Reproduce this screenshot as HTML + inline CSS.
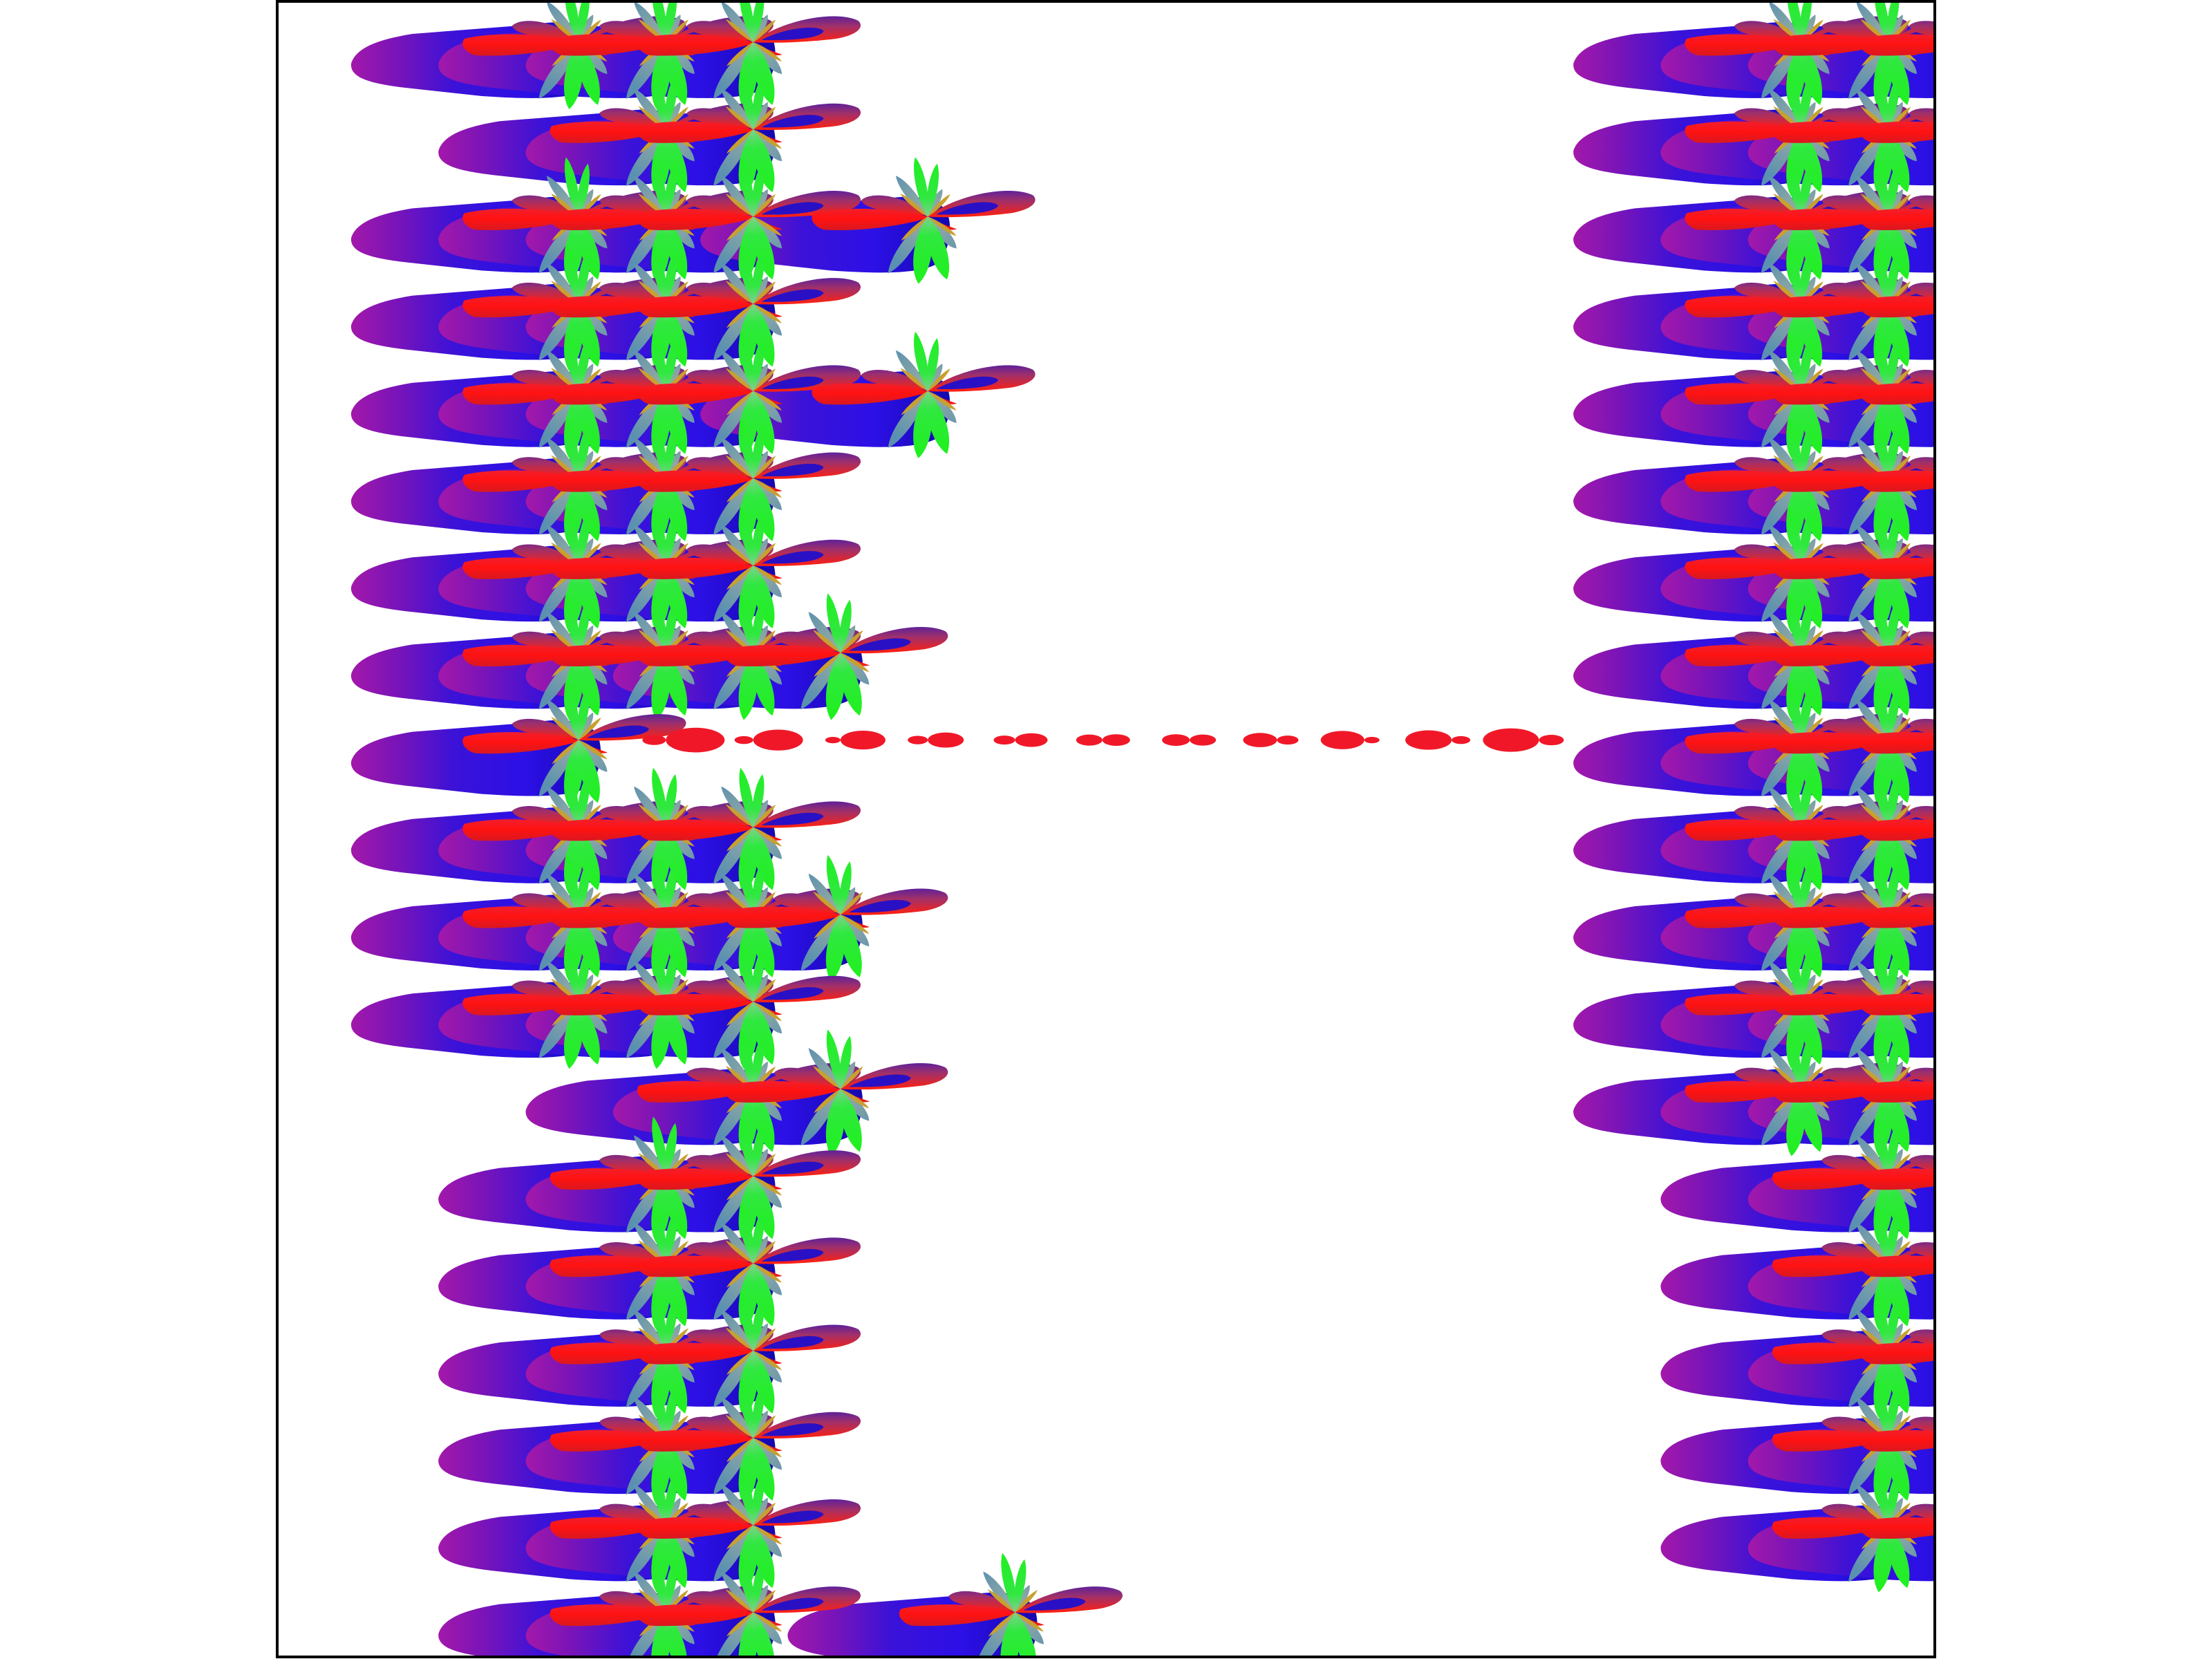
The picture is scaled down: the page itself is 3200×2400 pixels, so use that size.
<!DOCTYPE html>
<html><head><meta charset="utf-8"><title>Glyph field</title>
<style>html,body{margin:0;padding:0;background:#fff;}svg{display:block;}</style></head>
<body>
<svg id="chart" xmlns="http://www.w3.org/2000/svg" width="3200" height="2400" viewBox="0 0 3200 2400">
<defs>
  <clipPath id="axclip"><rect x="402" y="2" width="2396" height="2394"/></clipPath>
  <linearGradient id="gBody" x1="-329" y1="0" x2="30" y2="0" gradientUnits="userSpaceOnUse">
    <stop offset="0" stop-color="#a318aa"/><stop offset="0.18" stop-color="#7a14b8"/>
    <stop offset="0.42" stop-color="#3a12d8"/><stop offset="0.7" stop-color="#2c10e6"/><stop offset="1" stop-color="#1608b0"/>
  </linearGradient>
  <linearGradient id="gRed" x1="0" y1="-14" x2="0" y2="20" gradientUnits="userSpaceOnUse">
    <stop offset="0" stop-color="#f02030"/><stop offset="0.5" stop-color="#ff1212"/><stop offset="1" stop-color="#d81820"/>
  </linearGradient>
  <linearGradient id="gPetal" x1="0" y1="-42" x2="0" y2="0" gradientUnits="userSpaceOnUse">
    <stop offset="0" stop-color="#4a1ca8"/><stop offset="0.45" stop-color="#a0306a"/><stop offset="1" stop-color="#ff2010"/>
  </linearGradient>
  <linearGradient id="gGreen" x1="0" y1="0" x2="0" y2="-90" gradientUnits="userSpaceOnUse">
    <stop offset="0" stop-color="#80d090"/><stop offset="0.3" stop-color="#30e840"/><stop offset="1" stop-color="#20f020"/>
  </linearGradient>
  <linearGradient id="gGray" x1="0" y1="0" x2="0" y2="-80" gradientUnits="userSpaceOnUse">
    <stop offset="0" stop-color="#a0b0a0"/><stop offset="1" stop-color="#5a90b0"/>
  </linearGradient>
  <g id="gbody">
    <path d="M -329,31 C -322,8 -290,-4 -240,-12 L -60,-26 C -20,-33 12,-26 26,-10 C 38,12 32,55 10,70 C -20,84 -80,82 -140,78 L -250,66 C -300,60 -331,52 -329,31 Z" fill="url(#gBody)"/>
  </g>
  <g id="gtop">
    <path d="M 0,-2 C -30,-30 -80,-38 -96,-24 C -94,-12 -60,-6 0,-2 Z" fill="url(#gPetal)"/>
    <path d="M 0,0 C -40,-12 -120,-16 -165,-5 C -172,2 -165,15 -150,19 C -100,22 -40,14 0,2 Z" fill="url(#gRed)"/>
    <path d="M 0,2 C 15,8 30,14 42,18 C 30,22 12,14 0,2 Z" fill="#ee1a1a"/>
    <path d="M 0,0 C 40,-32 120,-47 152,-31 C 162,-22 150,-10 120,-5 C 80,0 30,2 0,0 Z" fill="url(#gPetal)"/>
    <path d="M 12,-3 C 40,-19 92,-27 102,-16 C 97,-6 60,-2 12,-3 Z" fill="#2a10c4"/>
    <path d="M0,0 C9,-20 9,-60 0,-75 C-9,-60 -9,-20 0,0Z" fill="url(#gGray)" transform="rotate(-38)"/>
    <path d="M0,0 C12,-30 12,-80 0,-100 C-12,-80 -12,-30 0,0Z" fill="url(#gGray)" transform="rotate(-145)"/>
    <path d="M0,0 C10,-20 10,-50 0,-62 C-10,-50 -10,-20 0,0Z" fill="url(#gGray)" transform="rotate(138)"/>
    <path d="M0,0 C7,-15 7,-35 0,-45 C-7,-35 -7,-15 0,0Z" fill="url(#gGray)" transform="rotate(28)"/>
    <path d="M0,0 C4,-15 4,-40 0,-52 C-4,-40 -4,-15 0,0Z" fill="#c8a030" transform="rotate(-50)"/>
    <path d="M0,0 C4,-15 4,-36 0,-46 C-4,-36 -4,-15 0,0Z" fill="#c8a030" transform="rotate(45)"/>
    <path d="M0,0 C4,-15 4,-40 0,-52 C-4,-40 -4,-15 0,0Z" fill="#c8a030" transform="rotate(-132)"/>
    <path d="M0,0 C4,-15 4,-40 0,-50 C-4,-40 -4,-15 0,0Z" fill="#c8a030" transform="rotate(124)"/>
    <path d="M0,0 C17,-30 17,-78 0,-98 C-17,-78 -17,-30 0,0Z" fill="url(#gGreen)" transform="rotate(188)"/>
    <path d="M0,0 C16,-30 16,-75 0,-95 C-16,-75 -16,-30 0,0Z" fill="url(#gGreen)" transform="rotate(163)"/>
    <path d="M0,0 C10,-25 10,-70 0,-88 C-10,-70 -10,-25 0,0Z" fill="url(#gGreen)" transform="rotate(-12)"/>
    <path d="M0,0 C9,-25 9,-62 0,-78 C-9,-62 -9,-25 0,0Z" fill="url(#gGreen)" transform="rotate(10)"/>
  </g>
</defs>
<rect x="0" y="0" width="3200" height="2400" fill="#fff"/>
<g id="plot" clip-path="url(#axclip)">
  <g id="bodies"></g>
  <g id="tops"></g>
</g>
<rect x="401" y="2" width="2398" height="2395" fill="none" stroke="#000" stroke-width="4"/>
</svg>
<script>
const leftCols = [[0,1,2],[1,2],[0,1,2,4],[0,1,2],[0,1,2,4],[0,1,2],[0,1,2],[0,1,2,3],[0],[0,1,2],[0,1,2,3],[0,1,2],[2,3],[1,2],[1,2],[1,2],[1,2],[1,2],[1,2,5]];
const rightCols = [[14,15,16],[14,15,16],[14,15,16],[14,15,16],[14,15,16],[14,15,16],[14,15,16],[14,15,16],[14,15,16],[14,15,16],[14,15,16],[14,15,16],[14,15,16],[15,16],[15,16],[15,16],[15,16],[15,16],[]];
const tinyRow = 8;
const tinyCols = [1,2,3,4,5,6,7,8,9,10,11];
const tinyLeft = [34,27,22,29,31,38,40,49,63,67,81];
const tinyRight = [85,72,65,52,47,40,38,31,22,27,36];

const NS = 'http://www.w3.org/2000/svg';
const bodies = document.getElementById('bodies');
const tops = document.getElementById('tops');
function xPos(c){ return 837 + 126.3*c; }
function yPos(r){ return 61 + 126.2*r; }

for (let r = 0; r < leftCols.length; r++) {
  const cols = leftCols[r].concat(rightCols[r]);
  for (const c of cols) {
    const t = 'translate(' + xPos(c) + ',' + yPos(r) + ')';
    const b = document.createElementNS(NS, 'use');
    b.setAttribute('href', '#gbody');
    b.setAttribute('transform', t);
    
    
    bodies.appendChild(b);
    const u = document.createElementNS(NS, 'use');
    u.setAttribute('href', '#gtop');
    u.setAttribute('transform', t);
    
    
    tops.appendChild(u);
  }
  if (r === tinyRow) {
    for (let i = 0; i < tinyCols.length; i++) {
      const cx = xPos(tinyCols[i]), cy = yPos(r);
      const g = document.createElementNS(NS, 'g');
      
      
      const L = tinyLeft[i], R = tinyRight[i];
      const e1 = document.createElementNS(NS, 'ellipse');
      e1.setAttribute('cx', cx - L/2); e1.setAttribute('cy', cy);
      e1.setAttribute('rx', L/2); e1.setAttribute('ry', Math.max(4, L*0.21));
      e1.setAttribute('fill', '#f01828');
      
      
      const e2 = document.createElementNS(NS, 'ellipse');
      e2.setAttribute('cx', cx + R/2); e2.setAttribute('cy', cy);
      e2.setAttribute('rx', R/2); e2.setAttribute('ry', Math.max(4, R*0.21));
      e2.setAttribute('fill', '#f01828');
      
      
      g.appendChild(e1); g.appendChild(e2);
      tops.appendChild(g);
    }
  }
}
</script>
</body></html>
